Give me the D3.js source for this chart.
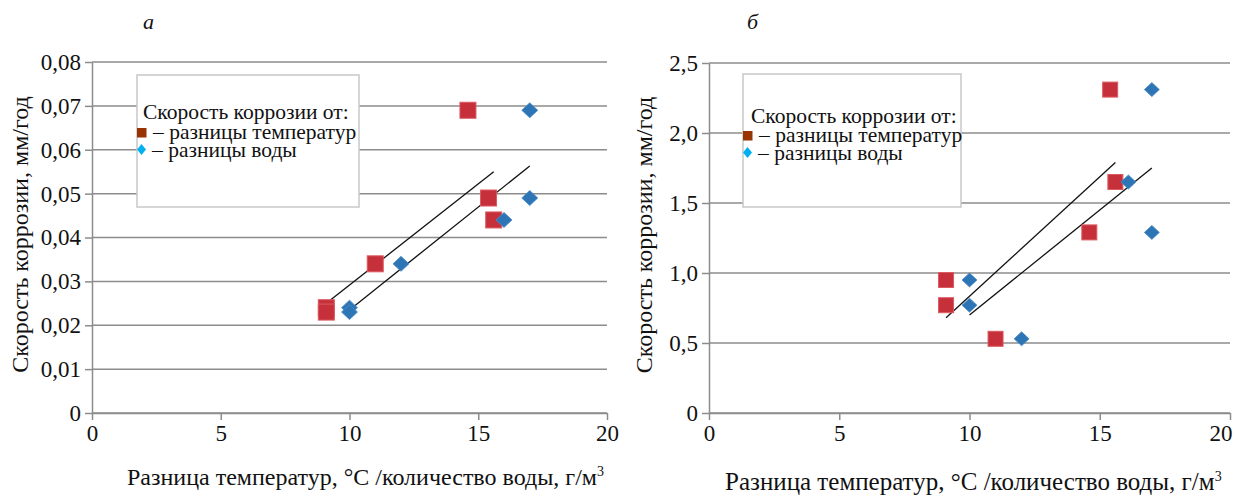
<!DOCTYPE html>
<html>
<head>
<meta charset="utf-8">
<script src="https://cdn.jsdelivr.net/npm/d3@7"></script>
<style>
  body { margin: 0; background: #fff; }
  svg { display: block; }
</style>
</head>
<body>
<script>
// ---- data ----
const xTicks = [0, 5, 10, 15, 20]
const xTickLabels = ['0', '5', '10', '15', '20']

// panel а
const yTicksA = [0, 0.01, 0.02, 0.03, 0.04, 0.05, 0.06, 0.07, 0.08]
const yTickLabelsA = ['0', '0,01', '0,02', '0,03', '0,04', '0,05', '0,06', '0,07', '0,08']
const tempAx = [9.1, 9.1, 11.0, 15.6, 15.4, 14.6]
const tempAy = [0.024, 0.023, 0.034, 0.044, 0.049, 0.069]
const waterAx = [10, 10, 12, 16, 17, 17]
const waterAy = [0.024, 0.023, 0.034, 0.044, 0.049, 0.069]
const trendTempA = [[9.1, 0.025], [15.6, 0.055]]
const trendWaterA = [[10, 0.0235], [17, 0.0563]]

// panel б
const yTicksB = [0, 0.5, 1.0, 1.5, 2.0, 2.5]
const yTickLabelsB = ['0', '0,5', '1,0', '1,5', '2,0', '2,5']
const tempBx = [9.1, 9.1, 11.0, 14.6, 15.6, 15.4]
const tempBy = [0.95, 0.77, 0.53, 1.29, 1.65, 2.31]
const waterBx = [10, 10, 12, 17, 16.1, 17]
const waterBy = [0.95, 0.77, 0.53, 1.29, 1.65, 2.31]
const trendTempB = [[9.1, 0.68], [15.6, 1.79]]
const trendWaterB = [[10, 0.70], [17, 1.75]]

const legendTitle = 'Скорость коррозии от:'
const legendTemp = '– разницы температур'
const legendWater = '– разницы воды'
const yTitle = 'Скорость коррозии, мм/год'
const xTitle = 'Разница температур, °C /количество воды, г/м'

const panels = [
    {
        letter: 'а', letterX: 143, letterY: 29,
        left: 92, right: 607, top: 62, bottom: 413,
        yTicks: yTicksA, yLabels: yTickLabelsA,
        temp: { x: tempAx, y: tempAy }, water: { x: waterAx, y: waterAy },
        trends: [trendTempA, trendWaterA],
        legend: { x: 137, y: 75, w: 222, h: 132, tx: 143, ty: 119, dy: [20, 38] },
        yTitleX: 28, xTitleX: 127, xTitleY: 485, xTitleSize: 24, marker: 16, lastEnd: false
    },
    {
        letter: 'б', letterX: 747, letterY: 29,
        left: 709, right: 1230, top: 63, bottom: 413,
        yTicks: yTicksB, yLabels: yTickLabelsB,
        temp: { x: tempBx, y: tempBy }, water: { x: waterBx, y: waterBy },
        trends: [trendTempB, trendWaterB],
        legend: { x: 743, y: 74, w: 218, h: 133, tx: 751, ty: 123, dy: [19, 37] },
        yTitleX: 652, xTitleX: 725, xTitleY: 490, xTitleSize: 25, marker: 15, lastEnd: true
    }
]

const gridColor = '#8c8c8c'
const red = '#c6303a'
const blue = '#2e75b6'

const svg = d3.select('body').append('svg')
    .attr('width', 1233)
    .attr('height', 495)
    .attr('font-family', '"Liberation Serif", "Times New Roman", serif')

panels.forEach(drawPanel)

function drawPanel(p)
{
    const x = d3.scaleLinear().domain([0, 20]).range([p.left, p.right])
    const y = d3.scaleLinear().domain([0, d3.max(p.yTicks)]).range([p.bottom, p.top])
    const g = svg.append('g')

    // grid lines
    g.append('g')
        .selectAll('line')
        .data(p.yTicks)
        .join('line')
        .attr('x1', p.left)
        .attr('x2', p.right)
        .attr('y1', d => y(d))
        .attr('y2', d => y(d))
        .attr('stroke', gridColor)
        .attr('stroke-width', 1.5)

    // axes
    const yAxis = g.append('g')
        .attr('transform', `translate(${p.left},0)`)
        .call(d3.axisLeft(y)
            .tickValues(p.yTicks)
            .tickFormat((d, i) => p.yLabels[i])
            .tickSize(7)
            .tickSizeOuter(0)
            .tickPadding(4))
    const xAxis = g.append('g')
        .attr('transform', `translate(0,${p.bottom})`)
        .call(d3.axisBottom(x)
            .tickValues(xTicks)
            .tickFormat((d, i) => xTickLabels[i])
            .tickSize(7)
            .tickSizeOuter(0)
            .tickPadding(5))

    ;[yAxis, xAxis].forEach(a => {
        a.attr('font-family', null).attr('font-size', null)
        a.select('.domain').attr('stroke', gridColor).attr('stroke-width', 1.5)
        a.selectAll('.tick line').attr('stroke', gridColor).attr('stroke-width', 1.5)
        a.selectAll('.tick text')
            .attr('fill', '#111')
            .style('font-size', '23px')
    })
    if (p.lastEnd)
    {
        // the last label is pushed in against the page edge
        xAxis.selectAll('.tick text')
            .filter(d => d === 20)
            .attr('text-anchor', 'end')
            .attr('x', 2)
    }

    // legend box
    const L = p.legend
    g.append('rect')
        .attr('x', L.x)
        .attr('y', L.y)
        .attr('width', L.w)
        .attr('height', L.h)
        .attr('fill', '#fff')
        .attr('stroke', '#c8c8c8')
        .attr('stroke-width', 1.5)

    const lt = g.append('g').attr('fill', '#111').style('font-size', '21.5px')
    lt.append('text').attr('x', L.tx).attr('y', L.ty).text(legendTitle)
    lt.append('text').attr('x', L.x + 16).attr('y', L.ty + L.dy[0]).text(legendTemp)
    lt.append('text').attr('x', L.x + 15).attr('y', L.ty + L.dy[1]).text(legendWater)
    g.append('rect')
        .attr('x', L.x)
        .attr('y', L.ty + L.dy[0] - 11)
        .attr('width', 9.5)
        .attr('height', 9.5)
        .attr('fill', '#993300')
    g.append('path')
        .attr('d', `M${L.x + 4.5},${L.ty + L.dy[1] - 13} l4.5,5.5 l-4.5,5.5 l-4.5,-5.5 Z`)
        .attr('fill', '#00b0f0')

    // trend lines
    g.append('g')
        .selectAll('line')
        .data(p.trends)
        .join('line')
        .attr('x1', d => x(d[0][0]))
        .attr('y1', d => y(d[0][1]))
        .attr('x2', d => x(d[1][0]))
        .attr('y2', d => y(d[1][1]))
        .attr('stroke', '#111')
        .attr('stroke-width', 1.3)

    // markers
    const s = p.marker
    g.append('g')
        .selectAll('rect')
        .data(d3.range(p.temp.x.length))
        .join('rect')
        .attr('x', i => x(p.temp.x[i]) - s / 2)
        .attr('y', i => y(p.temp.y[i]) - s / 2)
        .attr('width', s)
        .attr('height', s)
        .attr('fill', red)
        .attr('stroke', '#dc5a62')
        .attr('stroke-width', 1)

    const r = s / 2
    g.append('g')
        .selectAll('path')
        .data(d3.range(p.water.x.length))
        .join('path')
        .attr('transform', i => `translate(${x(p.water.x[i])},${y(p.water.y[i])})`)
        .attr('d', `M0,${-r + 0.5} L${r},0 L0,${r - 0.5} L${-r},0 Z`)
        .attr('fill', blue)
        .attr('stroke', '#4a8bc6')
        .attr('stroke-width', 0.8)

    // titles
    g.append('text')
        .attr('transform', `translate(${p.yTitleX},${(p.top + p.bottom) / 2 - 3}) rotate(-90)`)
        .attr('text-anchor', 'middle')
        .attr('fill', '#111')
        .style('font-size', '24px')
        .text(yTitle)

    const xt = g.append('text')
        .attr('x', p.xTitleX)
        .attr('y', p.xTitleY)
        .attr('fill', '#111')
        .style('font-size', `${p.xTitleSize}px`)
        .text(xTitle)
    xt.append('tspan')
        .attr('dy', -9)
        .style('font-size', '14px')
        .text('3')

    g.append('text')
        .attr('x', p.letterX)
        .attr('y', p.letterY)
        .attr('fill', '#111')
        .style('font-size', '22px')
        .style('font-style', 'italic')
        .text(p.letter)
}
</script>
</body>
</html>
